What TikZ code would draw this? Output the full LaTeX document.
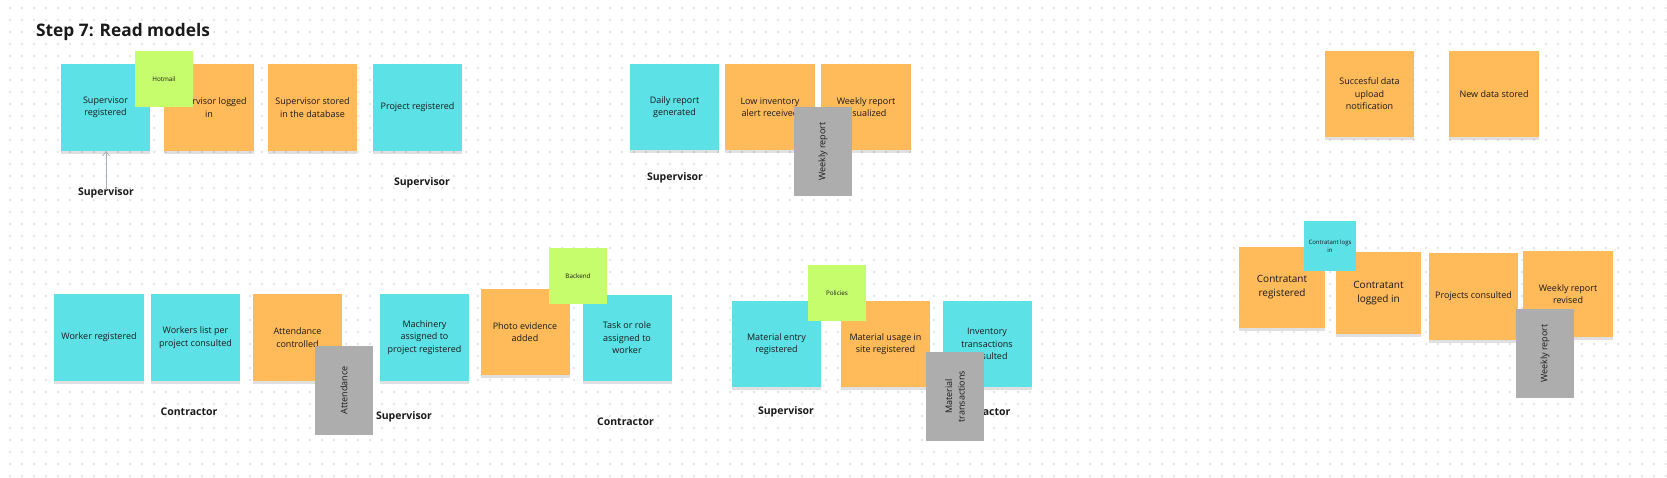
\documentclass[tikz,border=0pt]{standalone}
\usepackage{fontspec}
\setmainfont{Open Sans}
\usetikzlibrary{arrows.meta,shadows}
\definecolor{cyanS}{HTML}{5CE1E6}
\definecolor{orangeS}{HTML}{FFBA5A}
\definecolor{greenS}{HTML}{C6FD6D}
\definecolor{grayS}{HTML}{ADADAD}
\definecolor{dotc}{HTML}{DEDEDE}
\definecolor{txt}{HTML}{1A1A1A}
\definecolor{arrowc}{HTML}{A9AFB7}
\begin{document}
\begin{tikzpicture}[x=1pt,y=-1pt,
  stk/.style={inner sep=1pt, align=center, text=txt, font=\fontsize{9}{12.5}\selectfont},
  sz/.style 2 args={minimum width=#1pt, minimum height=#2pt},
  mainnote/.style={stk, drop shadow={shadow xshift=0pt, shadow yshift=-2.5pt, opacity=0.12, fill=black}},
  cyanN/.style={mainnote, fill=cyanS},
  orangeN/.style={mainnote, fill=orangeS},
  greenN/.style={stk, fill=greenS, font=\fontsize{6.3}{7.5}\selectfont},
  smallcyanN/.style={stk, fill=cyanS, font=\fontsize{6}{7.5}\selectfont},
  grayN/.style={stk, fill=grayS, rotate=90},
  big/.style={font=\fontsize{10}{14}\selectfont},
  lab/.style={text=txt, font=\bfseries\fontsize{10.5}{12}\selectfont, inner sep=0pt},
  arr/.style={draw=arrowc, line width=0.8pt, -{Straight Barb[length=4pt,width=7pt]}}
]
\useasboundingbox (0,0) rectangle (1667,477);
\fill[white] (0,0) rectangle (1667,477);
% dotted background
\foreach \i in {0,...,138}{
  \foreach \j in {0,...,39}{
    \fill[dotc] (10+12*\i, 8+12*\j) circle (1.1pt);
  }
}
% title
\node[anchor=base west, text=txt, inner sep=0pt, font=\bfseries\fontsize{17.3}{20}\selectfont] (title) at (36,36) {Step 7: Read models};

% row 1
\node[cyanN, sz={89}{87}] (sreg) at (105.5,107.5) {Supervisor\\registered};
\node[orangeN, sz={90}{87}] (slog) at (209,107.5) {Supervisor logged\\in};
\node[orangeN, sz={89}{87}] (sstore) at (312.5,107.5) {Supervisor stored\\in the database};
\node[cyanN, sz={89}{87}] (preg) at (417.5,107.5) {Project registered};
\node[cyanN, sz={89}{86}] (daily) at (674.5,107) {Daily report\\generated};
\node[orangeN, sz={90}{86}] (lowinv) at (770,107) {Low inventory\\alert received};
\node[orangeN, sz={90}{86}] (weekvis) at (866,107) {Weekly report\\visualized};
\node[orangeN, sz={89}{86}] (succ) at (1369.5,94) {Succesful data\\upload\\notification};
\node[orangeN, sz={90}{86}] (newdata) at (1494,94) {New data stored};

% row 2
\node[cyanN, sz={90}{87}] (worker) at (99,337.5) {Worker registered};
\node[cyanN, sz={89}{87}] (wlist) at (195.5,337.5) {Workers list per\\project consulted};
\node[orangeN, sz={89}{87}] (attend) at (297.5,337.5) {Attendance\\controlled};
\node[cyanN, sz={89}{87}] (mach) at (424.5,337.5) {Machinery\\assigned to\\project registered};
\node[orangeN, sz={89}{86}] (photo) at (525,332) {Photo evidence\\added};
\node[cyanN, sz={89}{86}] (task) at (627,338) {Task or role\\assigned to\\worker};
\node[cyanN, sz={89}{86}] (matentry) at (776.5,344) {Material entry\\registered};
\node[orangeN, sz={89}{86}] (matusage) at (885.5,344) {Material usage in\\site registered};
\node[cyanN, sz={89}{86}] (invtx) at (987,344) {Inventory\\transactions\\consulted};

% row 2 right
\node[orangeN, big, sz={86}{81}] (creg) at (1282,287.5) {Contratant\\registered};
\node[orangeN, big, sz={85}{82}] (clogged) at (1378.5,293) {Contratant\\logged in};
\node[orangeN, sz={89}{87}] (projc) at (1473.5,296.5) {Projects consulted};
\node[orangeN, sz={90}{86}] (wrrev) at (1568,294) {Weekly report\\revised};

% actor labels
\node[lab] (l1) at (106,193) {Supervisor};
\node[lab] (l2) at (422,183) {Supervisor};
\node[lab] (l3) at (675,178) {Supervisor};
\node[lab] (l4) at (189,412) {Contractor};
\node[lab] (l5) at (404,417) {Supervisor};
\node[lab] (l6) at (625.5,422) {Contractor};
\node[lab] (l7) at (786,412) {Supervisor};
\node[lab] (l8) at (982,412) {Contractor};

\draw[arr] ([yshift=-1pt]l1.north) -- (l1.north |- sreg.south);

% overlays
\node[greenN, sz={58}{56}] (hotmail) at (164,79) {Hotmail};
\node[greenN, sz={58}{56}] (backend) at (578,276) {Backend};
\node[greenN, sz={58}{56}] (policies) at (837,293) {Policies};
\node[smallcyanN, sz={52}{50}] (clogs) at (1330,246) {Contratant logs\\in};
\node[grayN, sz={89}{58}] (wr1) at (823,151.5) {Weekly report};
\node[grayN, sz={89}{58}] (att) at (344,390.5) {Attendance};
\node[grayN, sz={89}{58}] (mt) at (955,396.5) {Material\\transactions};
\node[grayN, sz={89}{58}] (wr2) at (1545,353.5) {Weekly report};
\end{tikzpicture}
\end{document}
